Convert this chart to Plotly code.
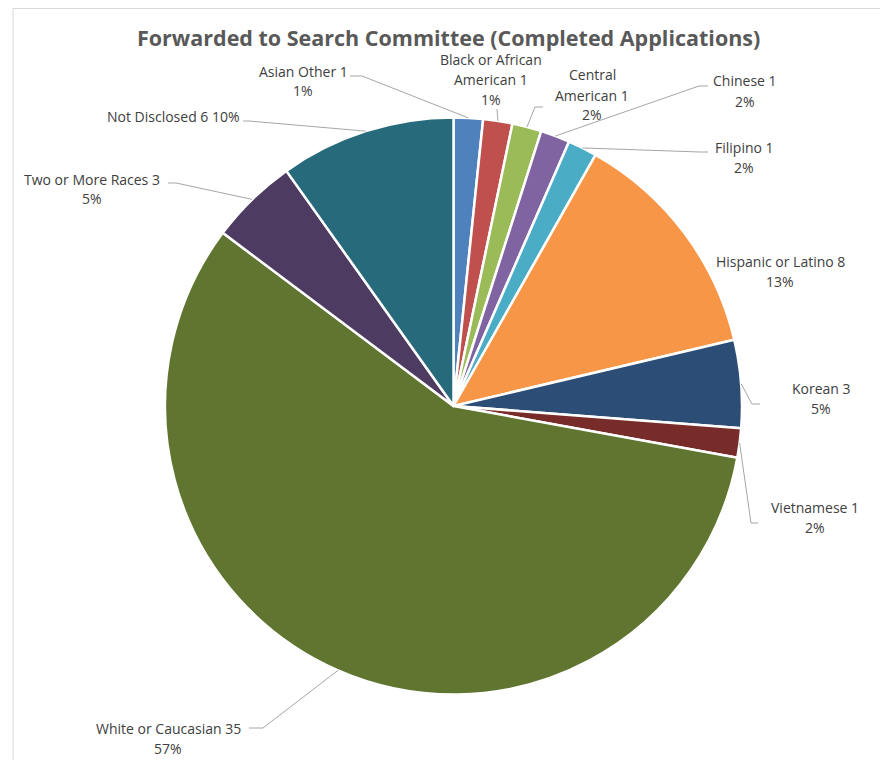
import math
import plotly.graph_objects as go

# ---------------- data ----------------
categories = ["Asian Other", "Black or African American", "Central American", "Chinese",
              "Filipino", "Hispanic or Latino", "Korean", "Vietnamese",
              "White or Caucasian", "Two or More Races", "Not Disclosed"]
values = [1, 1, 1, 1, 1, 8, 3, 1, 35, 3, 6]
pct_labels = ["1%", "1%", "2%", "2%", "2%", "13%", "5%", "2%", "57%", "5%", "10%"]
colors = ["#4F81BD", "#C0504D", "#9BBB59", "#8064A2", "#4BACC6", "#F79646",
          "#2C4D75", "#772C2A", "#5F7530", "#4D3B62", "#276A7C"]
title_text = "Forwarded to Search Committee (Completed Applications)"

# ---------------- layout constants (window pixels) ----------------
OFF = 8                      # page body margin
W, H = 888 - OFF, 760 - OFF  # figure size
CX, CY, R = 453.5, 406.0, 288.5
FONT = "Open Sans, Noto Sans, sans-serif"
LABEL_SIZE = 14
LINE_GAP = 20

def px(x, y):
    return (x - OFF) / W, 1 - (y - OFF) / H

# label layout: word-wrap point (None = no wrap), inline pct, centre x, first-line y,
# and label-side leader points (None = no leader)
label_layout = [
    dict(wrap=None, inline=False, x=303, y=71, lead=[(350, 76), (362, 76)]),
    dict(wrap=3, inline=False, x=491, y=59, lead=[(497, 109)]),
    dict(wrap=1, inline=False, x=592, y=75, lead=[(543, 107), (535, 107)]),
    dict(wrap=None, inline=False, x=745, y=81, lead=[(708, 86), (699, 86)]),
    dict(wrap=None, inline=False, x=744, y=147, lead=[(708, 152), (700, 152)]),
    dict(wrap=None, inline=False, x=780, y=262, lead=None),
    dict(wrap=None, inline=False, x=821, y=388, lead=[(760, 404), (752, 404)]),
    dict(wrap=None, inline=False, x=815, y=507, lead=[(758, 523), (751, 523)]),
    dict(wrap=None, inline=False, x=168, y=728, lead=[(249, 728), (263, 728)]),
    dict(wrap=None, inline=False, x=92, y=179, lead=[(168, 183), (176, 183)]),
    dict(wrap=None, inline=True, x=173, y=117, lead=[(243, 121), (249, 121)]),
]

# ---------------- figure ----------------
x0, y1p = px(CX - R, CY - R)
x1, y0p = px(CX + R, CY + R)

fig = go.Figure(go.Pie(
    labels=categories, values=values, sort=False, direction="clockwise", rotation=0,
    marker=dict(colors=colors, line=dict(color="white", width=2.5)),
    textinfo="none", hoverinfo="label+value+percent", showlegend=False,
    domain=dict(x=[x0, x1], y=[y0p, y1p]),
))

annotations = []
shapes = []
total = sum(values)
cum = 0
for i, (cat, v, pct, lay) in enumerate(zip(categories, values, pct_labels, label_layout)):
    mid = (cum + v / 2) / total * 2 * math.pi
    cum += v
    ax, ay = CX + R * math.sin(mid), CY - R * math.cos(mid)

    words = f"{cat} {v}".split(" ")
    if lay["inline"]:
        lines = [" ".join(words) + " " + pct]
    elif lay["wrap"]:
        lines = [" ".join(words[:lay["wrap"]]), " ".join(words[lay["wrap"]:]), pct]
    else:
        lines = [" ".join(words), pct]
    for k, ln in enumerate(lines):
        X, Y = px(lay["x"], lay["y"] + k * LINE_GAP)
        annotations.append(dict(x=X, y=Y, xref="paper", yref="paper", text=ln,
                                showarrow=False, xanchor="center", yanchor="middle",
                                font=dict(family=FONT, size=LABEL_SIZE, color="#404040")))
    if lay["lead"]:
        pts = lay["lead"] + [(ax, ay)]
        path = ""
        for j, (x, y) in enumerate(pts):
            X, Y = px(x, y)
            path += ("M" if j == 0 else " L") + f" {X:.5f} {Y:.5f}"
        shapes.append(dict(type="path", path=path, xref="paper", yref="paper",
                           line=dict(color="#A6A6A6", width=1)))

# chart-area border
bx0, by0 = px(13, 8.5)
bx1, by1 = px(886, 800)
shapes.append(dict(type="rect", xref="paper", yref="paper", x0=bx0, y0=by1, x1=bx1, y1=by0,
                   line=dict(color="#D9D9D9", width=1), fillcolor="rgba(0,0,0,0)", layer="below"))

tx, ty = px(448, 38)
annotations.append(dict(x=tx, y=ty, xref="paper", yref="paper", text="<b>" + title_text + "</b>",
                        showarrow=False, xanchor="center", yanchor="middle",
                        font=dict(family=FONT, size=21.5, color="#595959")))

fig.update_layout(width=W, height=H, margin=dict(l=0, r=0, t=0, b=0),
                  paper_bgcolor="white", plot_bgcolor="white",
                  annotations=annotations, shapes=shapes)

fig.write_html("out.html")
